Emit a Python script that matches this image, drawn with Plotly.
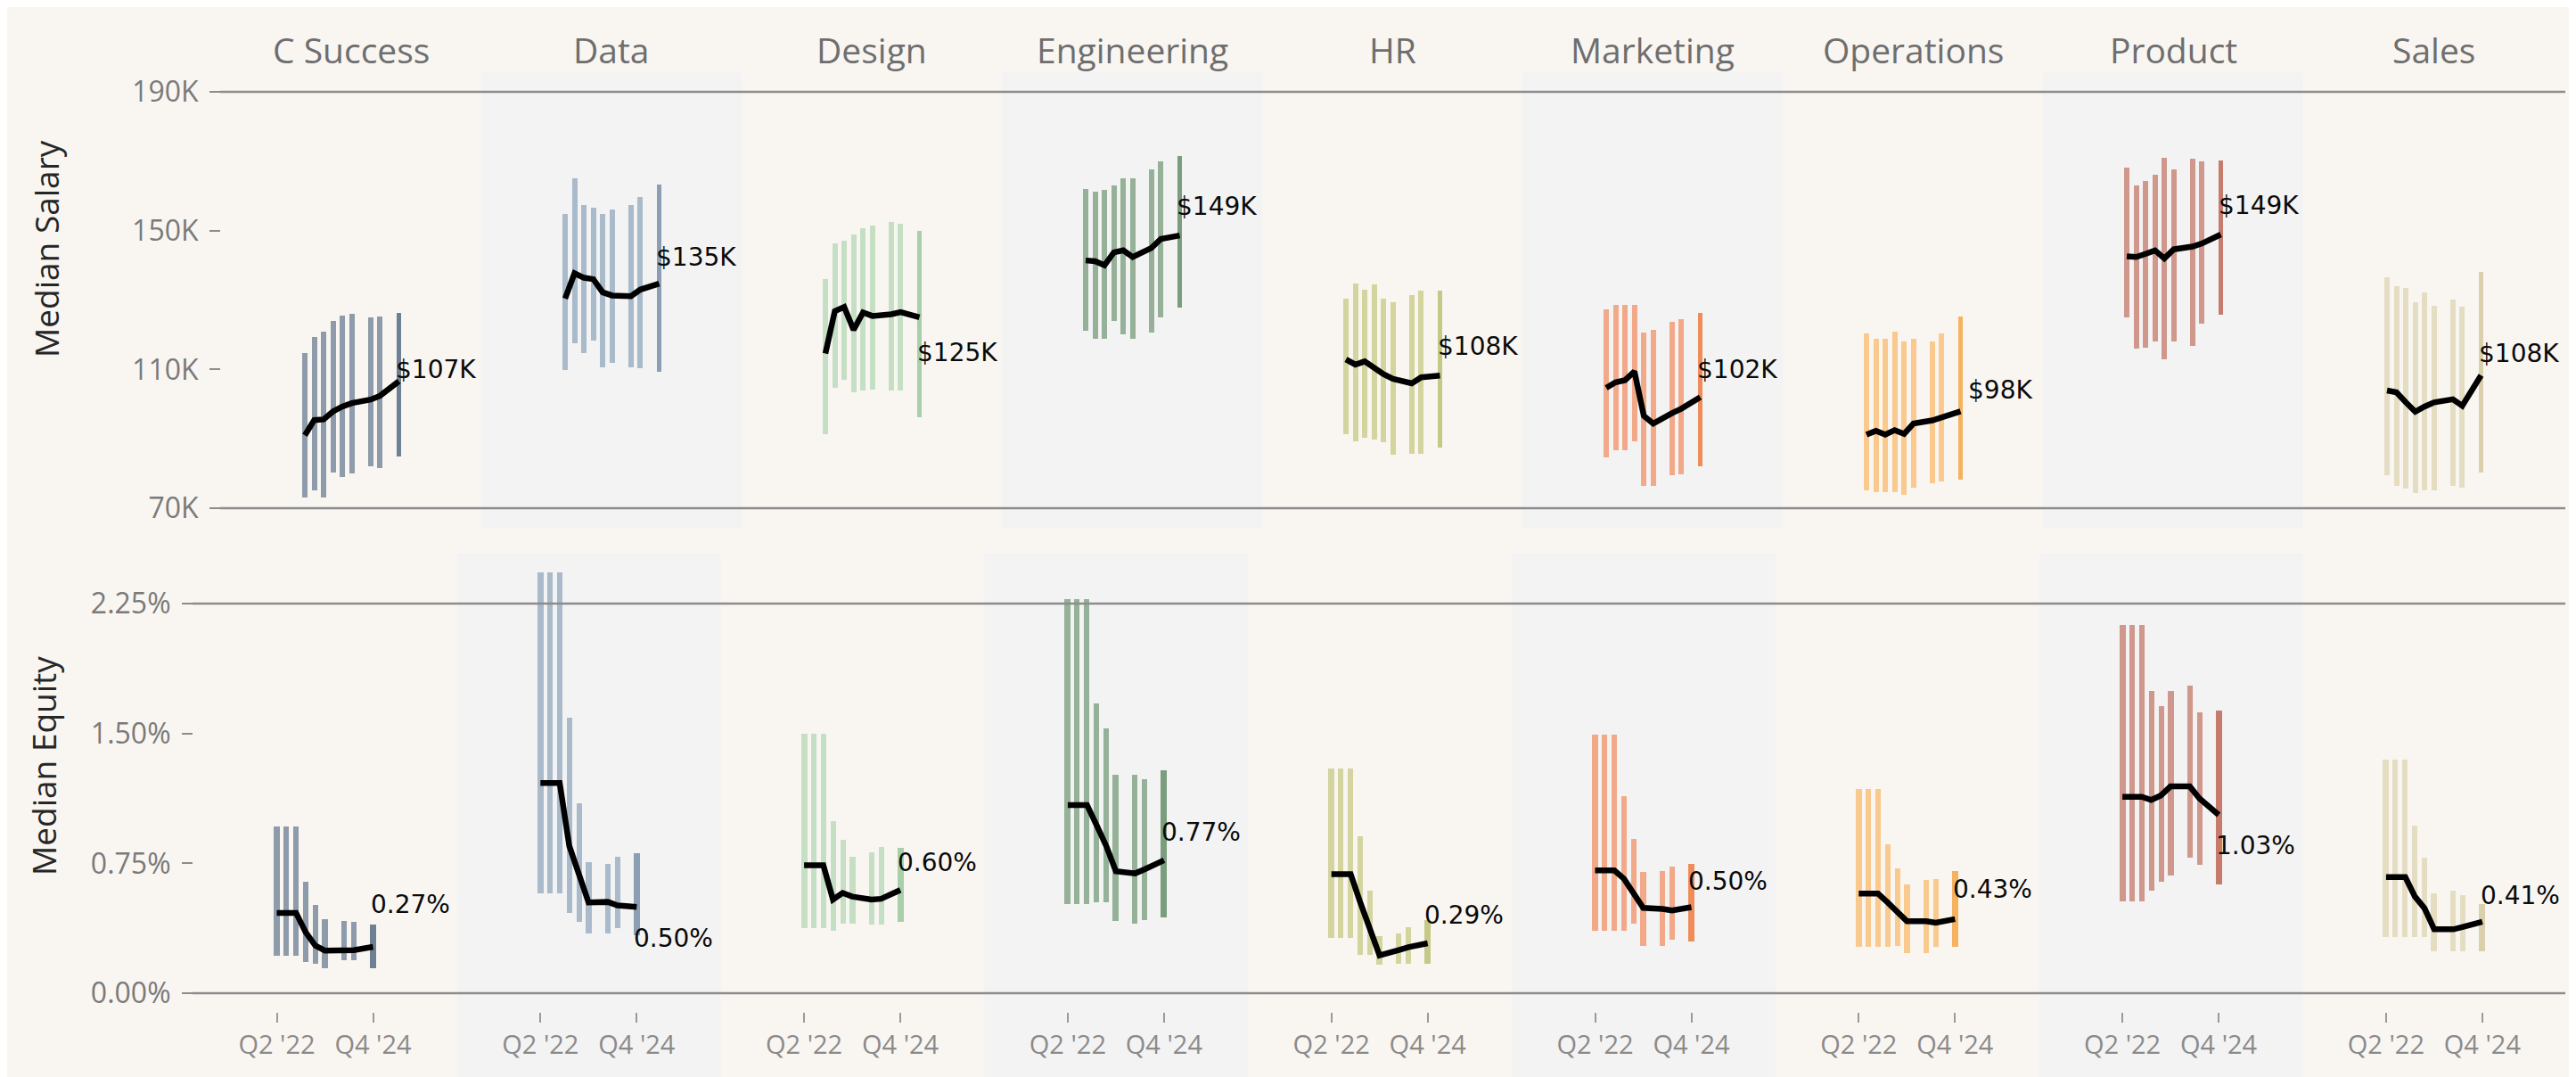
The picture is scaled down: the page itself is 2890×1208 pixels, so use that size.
import plotly.graph_objects as go

W, H = 2890, 1208

# ---------------- data ----------------
departments = ["C Success", "Data", "Design", "Engineering", "HR",
               "Marketing", "Operations", "Product", "Sales"]
quarters = ["Q2 '22", "Q3 '22", "Q4 '22", "Q1 '23", "Q2 '23", "Q3 '23",
            "Q1 '24", "Q2 '24", "Q4 '24"]
x_tick_labels = ["Q2 '22", "Q4 '24"]
salary_ticks = [70, 110, 150, 190]
salary_tick_text = ["70K", "110K", "150K", "190K"]
equity_ticks = [0, 0.75, 1.5, 2.25]
equity_tick_text = ["0.00%", "0.75%", "1.50%", "2.25%"]

# salary in $K
salary_high = {
    "C Success":   [114.6, 119.3, 121.0, 124.0, 125.6, 125.9, 124.9, 125.3, 126.2],
    "Data":        [154.9, 165.1, 157.4, 156.6, 154.9, 156.1, 157.4, 159.7, 163.4],
    "Design":      [136.0, 146.3, 147.2, 148.9, 150.6, 151.4, 152.5, 151.9, 150.0],
    "Engineering": [162.1, 161.3, 161.7, 163.0, 165.1, 165.1, 167.7, 169.9, 171.4],
    "HR":          [130.4, 134.7, 133.0, 134.5, 130.4, 129.4, 131.3, 132.6, 132.6],
    "Marketing":   [127.4, 128.7, 128.7, 128.5, 120.6, 121.4, 123.6, 124.4, 126.2],
    "Operations":  [120.3, 118.9, 118.9, 121.0, 118.0, 118.9, 118.0, 120.3, 125.3],
    "Product":     [168.1, 163.0, 164.3, 166.0, 171.1, 167.7, 170.7, 170.0, 170.3],
    "Sales":       [136.6, 133.9, 133.4, 129.4, 132.2, 128.3, 130.1, 128.0, 138.0],
}
salary_low = {
    "C Success":   [73.0, 75.2, 73.0, 80.3, 79.0, 79.9, 82.0, 81.6, 85.0],
    "Data":        [109.9, 117.6, 114.6, 118.4, 110.7, 112.0, 110.7, 110.3, 109.4],
    "Design":      [91.4, 104.7, 106.9, 103.4, 103.9, 104.3, 103.9, 103.9, 96.2],
    "Engineering": [121.2, 118.9, 118.9, 124.0, 120.2, 118.9, 120.6, 124.9, 127.9],
    "HR":          [91.4, 89.3, 90.2, 89.7, 88.9, 85.4, 85.8, 85.8, 87.5],
    "Marketing":   [84.6, 86.7, 86.7, 89.3, 76.4, 76.4, 79.4, 79.8, 82.0],
    "Operations":  [75.2, 74.7, 74.7, 74.7, 73.9, 76.0, 77.3, 77.7, 78.2],
    "Product":     [124.9, 115.9, 116.3, 118.0, 112.9, 118.0, 116.7, 123.2, 125.7],
    "Sales":       [79.4, 76.4, 75.6, 74.3, 75.2, 75.2, 76.4, 76.0, 80.2],
}
salary_median = {
    "C Success":   [91.0, 95.4, 95.6, 97.9, 99.3, 100.3, 101.3, 102.4, 106.6],
    "Data":        [130.4, 137.7, 136.4, 136.0, 132.2, 131.3, 131.1, 133.0, 134.7],
    "Design":      [114.6, 126.8, 128.0, 121.4, 126.4, 125.4, 125.9, 126.5, 125.0],
    "Engineering": [141.4, 141.2, 140.0, 143.7, 144.3, 142.4, 145.0, 147.6, 148.6],
    "HR":          [112.9, 111.4, 112.3, 110.3, 108.6, 107.3, 106.0, 107.7, 108.2],
    "Marketing":   [104.7, 106.3, 106.9, 109.4, 96.6, 94.4, 97.4, 98.7, 102.0],
    "Operations":  [91.2, 92.3, 91.2, 92.5, 91.4, 94.4, 95.3, 96.2, 97.9],
    "Product":     [142.6, 142.4, 143.3, 144.3, 142.0, 144.6, 145.4, 146.3, 148.9],
    "Sales":       [103.9, 103.4, 100.5, 97.8, 99.3, 100.5, 101.4, 99.5, 108.3],
}

# equity in %
equity_high = {
    "C Success":   [0.965, 0.965, 0.965, 0.644, 0.510, 0.426, 0.417, 0.412, 0.395],
    "Data":        [2.430, 2.430, 2.430, 1.589, 1.099, 0.756, 0.747, 0.790, 0.807],
    "Design":      [1.498, 1.498, 1.498, 0.996, 0.885, 0.790, 0.811, 0.842, 0.840],
    "Engineering": [2.276, 2.276, 2.276, 1.675, 1.529, 1.262, 1.262, 1.237, 1.288],
    "HR":          [1.297, 1.297, 1.297, 0.905, 0.593, 0.331, 0.344, 0.383, 0.421],
    "Marketing":   [1.494, 1.494, 1.494, 1.137, 0.893, 0.699, 0.704, 0.730, 0.747],
    "Operations":  [1.177, 1.177, 1.177, 0.859, 0.721, 0.627, 0.653, 0.661, 0.704],
    "Product":     [2.125, 2.125, 2.125, 1.743, 1.657, 1.743, 1.774, 1.620, 1.632],
    "Sales":       [1.348, 1.348, 1.348, 0.970, 0.781, 0.575, 0.593, 0.567, 0.515],
}
equity_low = {
    "C Success":   [0.215, 0.215, 0.215, 0.180, 0.172, 0.146, 0.189, 0.189, 0.146],
    "Data":        [0.575, 0.575, 0.575, 0.464, 0.412, 0.344, 0.344, 0.378, 0.335],
    "Design":      [0.378, 0.378, 0.378, 0.361, 0.404, 0.404, 0.395, 0.395, 0.412],
    "Engineering": [0.515, 0.515, 0.515, 0.524, 0.524, 0.417, 0.404, 0.421, 0.438],
    "HR":          [0.318, 0.318, 0.318, 0.223, 0.223, 0.163, 0.172, 0.172, 0.172],
    "Marketing":   [0.361, 0.361, 0.361, 0.361, 0.404, 0.275, 0.275, 0.309, 0.301],
    "Operations":  [0.266, 0.266, 0.266, 0.266, 0.275, 0.232, 0.232, 0.266, 0.266],
    "Product":     [0.532, 0.532, 0.532, 0.593, 0.644, 0.678, 0.782, 0.739, 0.627],
    "Sales":       [0.326, 0.326, 0.326, 0.326, 0.326, 0.240, 0.240, 0.240, 0.240],
}
equity_median = {
    "C Success":   [0.464, 0.464, 0.464, 0.352, 0.275, 0.246, 0.246, 0.249, 0.268],
    "Data":        [1.214, 1.214, 1.214, 0.850, 0.690, 0.524, 0.527, 0.507, 0.498],
    "Design":      [0.739, 0.739, 0.739, 0.541, 0.579, 0.558, 0.541, 0.545, 0.596],
    "Engineering": [1.087, 1.087, 1.087, 0.970, 0.850, 0.704, 0.692, 0.716, 0.768],
    "HR":          [0.687, 0.687, 0.687, 0.524, 0.369, 0.218, 0.249, 0.266, 0.288],
    "Marketing":   [0.709, 0.709, 0.709, 0.661, 0.575, 0.493, 0.486, 0.478, 0.497],
    "Operations":  [0.575, 0.575, 0.575, 0.524, 0.464, 0.416, 0.416, 0.407, 0.428],
    "Product":     [1.134, 1.134, 1.134, 1.116, 1.142, 1.194, 1.194, 1.125, 1.030],
    "Sales":       [0.670, 0.670, 0.670, 0.558, 0.490, 0.369, 0.369, 0.383, 0.412],
}

# ---------------- style ----------------
bar_colors = ["#8d9bab", "#a9bacb", "#c5dfc5", "#95b198", "#d3d49e",
              "#f2a98a", "#f9c98e", "#d0978c", "#e5ddc2"]
last_colors = ["#6e8093", "#8b9eb4", "#a9cfaa", "#799d7d", "#c5c886",
               "#ef8c5c", "#f5b35f", "#c77b6d", "#dad0ab"]
shaded_cols = [1, 3, 5, 7]
BG = "#f9f6f2"
SHADE = "#f3f3f3"
GRID = "#8c8c8c"

# label placement (pixel shifts, + is up)
salary_label_dy = [13, 30, -40, 33, 33, 31, 24, 32, 24]
salary_label_dx = [-6, -6, -5, -6, -5, -6, 6, -5, -5]
equity_label_dy = [47, -35, 31, 31, 32, 29, 33, -35, 29]
equity_label_dx = [-5, -5, -5, -5, -6, -5, -4, -5, -4]

# geometry (pixels)
TOP = dict(left0=240, colw=292.0, slot0=94.0, slotw=10.55,
           ytop=73, ybot=585, v_hi=190, px_hi=95, v_lo=70, px_lo=562, axis_x=239)
BOT = dict(left0=209, colw=295.8, slot0=93.5, slotw=10.8,
           ytop=612, ybot=1127, v_hi=2.25, px_hi=669, v_lo=0.0, px_lo=1106, axis_x=208)
LINE_END = 2870


def q_index(label):
    q = int(label[1])
    yr = int(label[-2:])
    return (yr - 22) * 4 + (q - 2)


x_idx = [q_index(q) for q in quarters]
tick_idx = [q_index(q) for q in x_tick_labels]


def val_at(g, px):
    k = (g["v_hi"] - g["v_lo"]) / (g["px_lo"] - g["px_hi"])
    return g["v_hi"] - (px - g["px_hi"]) * k


fig = go.Figure()
layout = {}
shapes = []
annotations = []

rows = [
    (TOP, "y", salary_low, salary_high, salary_median, salary_label_dy, salary_label_dx,
     lambda v: f"${v:.0f}K"),
    (BOT, "y2", equity_low, equity_high, equity_median, equity_label_dy, equity_label_dx,
     lambda v: f"{v:.2f}%"),
]

for r, (g, ya, lo_d, hi_d, med_d, ldy, ldx, fmt) in enumerate(rows):
    for i, d in enumerate(departments):
        n = i + 1 + 9 * r
        xa = "x" if n == 1 else f"x{n}"
        left = g["left0"] + g["colw"] * i
        right = left + g["colw"]
        lo, hi, med = lo_d[d], hi_d[d], med_d[d]
        colors = [bar_colors[i]] * (len(lo) - 1) + [last_colors[i]]
        fig.add_trace(go.Bar(
            x=x_idx, y=[h - l for h, l in zip(hi, lo)], base=lo, width=0.56,
            marker=dict(color=colors, line=dict(width=0)),
            xaxis=xa, yaxis=ya, showlegend=False, hoverinfo="skip"))
        fig.add_trace(go.Scatter(
            x=x_idx, y=med, mode="lines",
            line=dict(color="#000000", width=6.5, shape="linear"),
            xaxis=xa, yaxis=ya, showlegend=False, hoverinfo="skip"))
        rng = [-g["slot0"] / g["slotw"], (g["colw"] - g["slot0"]) / g["slotw"]]
        ax = dict(domain=[left / W, right / W], range=rng, anchor=ya,
                  showgrid=False, zeroline=False, showline=False, fixedrange=True)
        if r == 0:
            ax.update(showticklabels=False, ticks="")
        else:
            ax.update(tickvals=tick_idx, ticktext=x_tick_labels, ticks="outside",
                      ticklen=11, tickwidth=2, tickcolor="#9a9a9a",
                      tickfont=dict(size=29, color="#8a8a8a", family="Open Sans"))
        layout["xaxis" if n == 1 else f"xaxis{n}"] = ax
        # shading
        if i in shaded_cols:
            shapes.append(dict(type="rect", xref="paper", yref="paper",
                               x0=left / W, x1=right / W,
                               y0=(1 - g["ybot"] / H) if r == 0 else 0.0,
                               y1=1 - g["ytop"] / H,
                               fillcolor=SHADE, line=dict(width=0), layer="below"))
        # end label
        annotations.append(dict(
            x=x_idx[-1], y=med[-1], xref=xa, yref=ya, text=fmt(med[-1]),
            showarrow=False, xanchor="left", yanchor="middle",
            xshift=ldx[i], yshift=ldy[i],
            font=dict(family="DejaVu Sans", size=28, color="#0a0a0a")))
        if r == 0:
            annotations.append(dict(
                x=(left + right) / 2 / W, y=1 - 47 / H, xref="paper", yref="paper",
                text=d, showarrow=False, xanchor="center", yanchor="middle",
                font=dict(family="Open Sans", size=39, color="#6e6e6e")))

    yrange = [val_at(g, g["ybot"]), val_at(g, g["ytop"])]
    yname = "yaxis" if r == 0 else "yaxis2"
    layout[yname] = dict(
        domain=[1 - g["ybot"] / H, 1 - g["ytop"] / H], range=yrange,
        anchor="free", position=g["axis_x"] / W,
        tickvals=salary_ticks if r == 0 else equity_ticks,
        ticktext=salary_tick_text if r == 0 else equity_tick_text,
        ticks="outside", ticklen=12, tickwidth=2, tickcolor="#8c8c8c",
        ticklabelstandoff=6,
        tickfont=dict(size=32, color="#7a7a7a", family="Open Sans"),
        showgrid=False, zeroline=False, showline=False, fixedrange=True)
    for v in (g["v_hi"], g["v_lo"]):
        shapes.append(dict(type="line", xref="paper", yref=ya,
                           x0=g["axis_x"] / W, x1=LINE_END / W, y0=v, y1=v,
                           line=dict(color=GRID, width=2.5), layer="above"))

annotations.append(dict(x=43 / W, y=1 - 271 / H, xref="paper", yref="paper",
                        text="Median Salary", textangle=-90, showarrow=False,
                        xanchor="center", yanchor="middle",
                        font=dict(family="Open Sans", size=37, color="#262626")))
annotations.append(dict(x=40 / W, y=1 - 851 / H, xref="paper", yref="paper",
                        text="Median Equity", textangle=-90, showarrow=False,
                        xanchor="center", yanchor="middle",
                        font=dict(family="Open Sans", size=37, color="#262626")))

fig.update_layout(
    width=W, height=H, margin=dict(l=0, r=0, t=0, b=0),
    paper_bgcolor=BG, plot_bgcolor="rgba(0,0,0,0)",
    font=dict(family="Open Sans"),
    shapes=shapes, annotations=annotations, bargap=0,
    **layout)

fig.write_html("out.html", config={"displayModeBar": False})
